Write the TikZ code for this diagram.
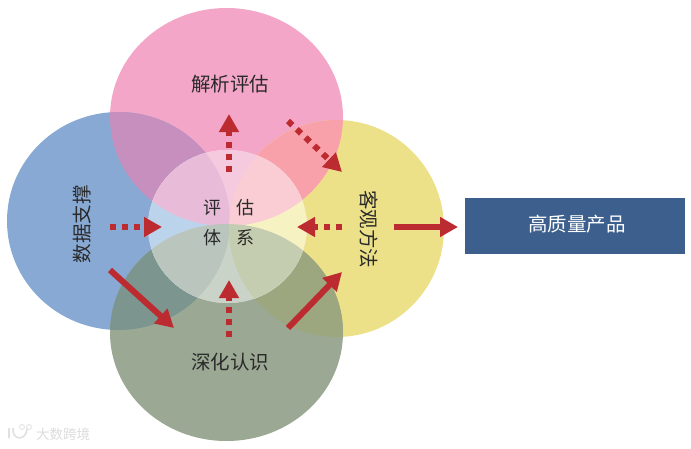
\documentclass[tikz,border=0pt]{standalone}
\usepackage{fontspec}
\usepackage{tikz}
\usetikzlibrary{arrows.meta}
\newfontfamily\cjk{Noto Sans CJK SC}
\definecolor{pinkarea}{HTML}{F4A6C9}
\definecolor{bluearea}{HTML}{88A9D3}
\definecolor{olivearea}{HTML}{9BA893}
\definecolor{yellowarea}{HTML}{ECE189}
\definecolor{arrowred}{HTML}{BC2B30}
\definecolor{boxblue}{HTML}{3C5F8D}
\definecolor{inktext}{HTML}{2A2A2A}
\newcommand{\toparea}{(226.5,117) ellipse (116.5 and 109)}
\newcommand{\leftarea}{(118.5,221) ellipse (111.5 and 109)}
\newcommand{\rightarea}{(336.5,228.5) ellipse (107.5 and 108.5)}
\newcommand{\lowarea}{(226.5,332.5) ellipse (116.5 and 108.5)}
\newcommand{\midarea}{(227.5,226.5) ellipse (79.5 and 76.5)}
\tikzset{
  dotarrow/.style={arrowred,line width=6pt,dash pattern=on 6pt off 6pt,-{Triangle[length=18pt,width=19pt]}},
  solidarrow/.style={arrowred,line width=6pt,-{Triangle[length=18pt,width=19pt]}},
  cjklabel/.style={font=\cjk\fontsize{19.5}{21}\selectfont,text=inktext,inner sep=0pt},
  midlabel/.style={cjklabel,font=\cjk\fontsize{18}{20}\selectfont},
}
\begin{document}
\begin{tikzpicture}[x=1pt,y=-1pt]
\useasboundingbox (0,0) rectangle (691,448);
% the four big areas
\foreach \a/\c in {\toparea/pinkarea,\leftarea/bluearea,\rightarea/yellowarea,\lowarea/olivearea} \fill[\c] \a;
% overlaps of the big areas
\foreach \a/\b/\c in {\toparea/\leftarea/C78FBE,\toparea/\rightarea/F9A1AB,\lowarea/\leftarea/7C958F,\lowarea/\rightarea/9CA77F} {
  \definecolor{mixcolor}{HTML}{\c}
  \begin{scope}
  \clip \a;
  \fill[mixcolor] \b;
  \end{scope}
}
% pale circle in the middle
\fill[white!60!pinkarea] \midarea;
\foreach \a/\c in {\leftarea/BBD3EB,\rightarea/F6F2C2,\toparea/F5CADF,\lowarea/C9D3C7} {
  \definecolor{mixcolor}{HTML}{\c}
  \begin{scope}
  \clip \midarea;
  \fill[mixcolor] \a;
  \end{scope}
}
\foreach \a/\b/\c in {\toparea/\leftarea/E8BCD9,\toparea/\rightarea/F9CDD3,\lowarea/\leftarea/BAC6BD,\lowarea/\rightarea/C5CDB0} {
  \definecolor{mixcolor}{HTML}{\c}
  \begin{scope}
  \clip \midarea;
  \clip \a;
  \fill[mixcolor] \b;
  \end{scope}
}
% labels
\node[cjklabel] (analyse) at (230,84) {解析评估};
\node[cjklabel,rotate=90] (data) at (82,224) {数据支撑};
\node[cjklabel,rotate=-90] (method) at (369,229) {客观方法};
\node[cjklabel] (deepen) at (230,362) {深化认识};
\node[midlabel] (ping) at (212,208) {评};
\node[midlabel] (gu) at (245,208) {估};
\node[midlabel] (ti) at (212,238) {体};
\node[midlabel] (xi) at (245,238) {系};
\node[fill=boxblue,minimum width=220pt,minimum height=56pt,inner sep=0pt] (product) at (575,226) {};
\node[cjklabel,text=white] (producttext) at (577,224) {高质量产品};
% arrow ends
\coordinate (upa) at (229,172);
\coordinate (upb) at (229,114);
\coordinate (diaga) at (288,121);
\coordinate (diagb) at (342,172);
\coordinate (lefta) at (110,227);
\coordinate (leftb) at (162,227);
\coordinate (righta) at (342,227);
\coordinate (rightb) at (297,227);
\coordinate (lowa) at (229,337);
\coordinate (lowb) at (229,280);
\coordinate (slasha) at (110,270);
\coordinate (slashb) at (174,328);
\coordinate (risea) at (288,328);
\coordinate (riseb) at (342,272);
\coordinate (outa) at (394,227);
\coordinate (outb) at (458,227);
\draw[dotarrow] (upa) -- (upb);
\draw[dotarrow] (diaga) -- (diagb);
\draw[dotarrow] (lefta) -- (leftb);
\draw[dotarrow] (righta) -- (rightb);
\draw[dotarrow] (lowa) -- (lowb);
\draw[solidarrow] (slasha) -- (slashb);
\draw[solidarrow] (risea) -- (riseb);
\draw[solidarrow] (outa) -- (outb);
% watermark
\draw[black!12,line width=1.6pt] (9,428) -- (9,438) (13,428) .. controls (12,441) and (26,441) .. (27,429);
\draw[black!12,line width=0.8pt] (22,427) circle (2.5) (29,427) circle (2.5);
\node[font=\cjk\fontsize{13.5}{15}\selectfont,text=black!14,inner sep=0pt] (mark) at (63,434) {大数跨境};
\end{tikzpicture}
\end{document}
